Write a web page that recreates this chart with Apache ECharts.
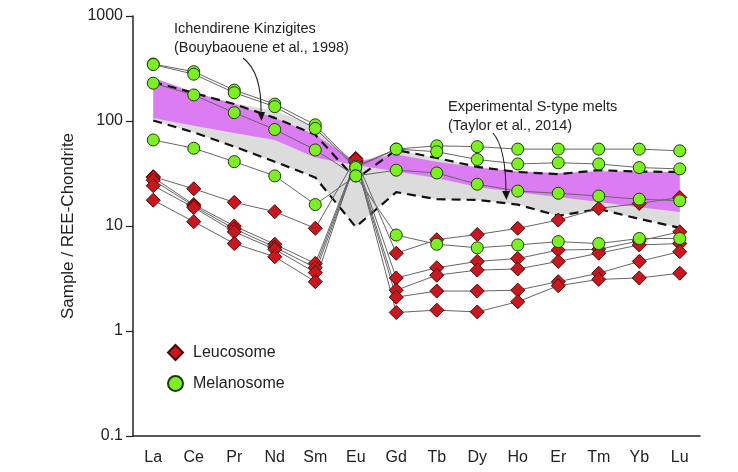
<!DOCTYPE html>
<html>
<head>
<meta charset="utf-8">
<script src="https://cdn.jsdelivr.net/npm/echarts@6/dist/echarts.min.js"></script>
<style>
  html, body { margin: 0; padding: 0; background: #fff; }
  #chart { width: 738px; height: 472px; }
</style>
</head>
<body>
<div id="chart"></div>
<script>
// Rare earth elements, chondrite-normalised
const elements = ['La', 'Ce', 'Pr', 'Nd', 'Sm', 'Eu', 'Gd', 'Tb', 'Dy', 'Ho', 'Er', 'Tm', 'Yb', 'Lu'];
const yTickValues = [0.1, 1, 10, 100, 1000];

// Leucosome samples
const leucosome1 = [29.5, 22.6, 16.8, 13.7, 9.5, 44, 5.5, 7.4, 8.3, 9.5, 11.4, 14.7, 16.4, 18.7];
const leucosome2 = [29, 16, 10.0, 6.7, 4.4, 42, 3.2, 4.0, 4.6, 4.9, 5.9, 6.0, 7.2, 8.8];
const leucosome3 = [27.3, 15.5, 9.4, 6.3, 4.0, 41, 2.45, 3.4, 3.8, 3.9, 4.6, 5.5, 6.6, 6.8];
const leucosome4 = [24.2, 15, 8.8, 6.0, 3.6, 40, 2.1, 2.4, 2.4, 2.45, 2.95, 3.55, 4.6, 5.7];
const leucosome5 = [17.6, 11, 6.8, 5.1, 2.95, 43, 1.5, 1.58, 1.52, 1.9, 2.7, 3.1, 3.2, 3.55];

// Melanosome samples
const melanosome1 = [349, 295, 197, 145, 92, 37, 54, 58, 57, 54, 54, 54, 54, 52];
const melanosome2 = [345, 279, 186, 137, 85, 36, 54, 51, 43, 39, 40, 39, 36, 35];
const melanosome3 = [229, 177, 120, 83, 53, 30, 34, 32, 25, 21.5, 20.5, 19.3, 18, 17.4];
const melanosome4 = [66, 55, 41, 30, 16, 30, 8.2, 6.7, 6.2, 6.6, 7.1, 6.8, 7.6, 7.6];

// Reference field bounds (dashed envelope, grey field, purple field)
const envelopeUpper = [235, 185, 145, 107, 74, 28, 53, 44.5, 36.5, 32.7, 31.2, 34, 33, 32.7];
const envelopeLower = [101, 78, 57, 41, 29, 9.8, 21, 18, 17.7, 16, 12.5, 14.5, 11.7, 9.6];
const greyUpper = [235, 185, 148, 125, 88, 40, 53, 44.5, 36.5, 32.7, 31.2, 34, 33, 32.7];
const purpleUpper = [258, 188, 145, 107, 74, 41, 48, 41, 36, 33, 32, 33, 33, 32.5];
const purpleLower = [107, 90, 77, 66, 45, 38, 33, 28.6, 23.5, 21, 18.9, 16.9, 15.1, 13.6];

const leucosomes = [leucosome1, leucosome2, leucosome3, leucosome4, leucosome5];
const melanosomes = [melanosome1, melanosome2, melanosome3, melanosome4];

const FONT = "'Liberation Sans', Arial, Helvetica, sans-serif";

function fieldSeries(upper, lower, color, z) {
  return {
    type: 'custom',
    silent: true,
    z: z,
    renderItem: function (params, api) {
      if (params.dataIndex > 0) return;
      const pts = [];
      for (let i = 0; i < upper.length; i++) pts.push(api.coord([i, upper[i]]));
      for (let i = lower.length - 1; i >= 0; i--) pts.push(api.coord([i, lower[i]]));
      return { type: 'polygon', shape: { points: pts }, style: { fill: color } };
    },
    data: [[0, upper[0]]]
  };
}

function envelopeSeries(values) {
  return {
    type: 'line',
    data: values,
    symbol: 'none',
    silent: true,
    z: 3,
    lineStyle: { color: '#111', width: 2.2, type: [9, 6] }
  };
}

const series = [
  fieldSeries(greyUpper, envelopeLower, '#dcdcdc', 1),
  fieldSeries(purpleUpper, purpleLower, '#dc7cf2', 2),
  envelopeSeries(envelopeUpper),
  envelopeSeries(envelopeLower)
];

leucosomes.forEach(function (vals) {
  series.push({
    name: 'Leucosome',
    type: 'line',
    data: vals,
    symbol: 'diamond',
    symbolSize: 14,
    z: 4,
    lineStyle: { color: '#666', width: 1 },
    itemStyle: { color: '#c8171e', borderColor: '#4d0606', borderWidth: 1 }
  });
});

melanosomes.forEach(function (vals) {
  series.push({
    name: 'Melanosome',
    type: 'line',
    data: vals,
    symbol: 'circle',
    symbolSize: 12,
    z: 5,
    lineStyle: { color: '#666', width: 1 },
    itemStyle: { color: '#7cf023', borderColor: '#1f3a0a', borderWidth: 1 }
  });
});

const chart = echarts.init(document.getElementById('chart'), null, { renderer: 'canvas' });

chart.setOption({
  animation: false,
  backgroundColor: '#ffffff',
  textStyle: { fontFamily: FONT },
  grid: { left: 133, right: 38, top: 16, bottom: 36 },
  legend: {
    orient: 'vertical',
    left: 162,
    top: 339,
    itemWidth: 15,
    itemHeight: 15,
    itemGap: 14,
    selectedMode: false,
    textStyle: { fontFamily: FONT, fontSize: 16, color: '#222', padding: [0, 0, 0, 5] },
    data: [
      { name: 'Leucosome', icon: 'diamond' },
      { name: 'Melanosome', icon: 'circle' }
    ]
  },
  xAxis: {
    type: 'category',
    data: elements,
    boundaryGap: true,
    axisLine: { lineStyle: { color: '#222', width: 1.5 } },
    axisTick: { alignWithLabel: true, length: 6, lineStyle: { color: '#222', width: 1.2 } },
    axisLabel: { fontFamily: FONT, fontSize: 16, color: '#222', margin: 14 },
    splitLine: { show: false }
  },
  yAxis: {
    type: 'log',
    logBase: 10,
    min: yTickValues[0],
    max: yTickValues[yTickValues.length - 1],
    name: 'Sample / REE-Chondrite',
    nameLocation: 'middle',
    nameRotate: 90,
    nameGap: 54,
    nameTextStyle: { fontFamily: FONT, fontSize: 17, color: '#222' },
    axisLine: { show: true, lineStyle: { color: '#222', width: 1.5 } },
    axisTick: { show: true, length: 7, lineStyle: { color: '#222', width: 1.2 } },
    minorTick: { show: false },
    axisLabel: {
      fontFamily: FONT, fontSize: 16, color: '#222', margin: 10,
      formatter: function (v) { return String(+v.toPrecision(3)); }
    },
    splitLine: { show: false }
  },
  graphic: [
    { type: 'text', left: 174, top: 19, silent: true,
      style: { text: 'Ichendirene Kinzigites\n(Bouybaouene et al., 1998)', font: '14.5px ' + FONT, fill: '#222', lineHeight: 19 } },
    { type: 'text', left: 448, top: 97, silent: true,
      style: { text: 'Experimental S-type melts\n(Taylor et al., 2014)', font: '14.5px ' + FONT, fill: '#222', lineHeight: 19 } },
    { type: 'bezierCurve', silent: true, z: 10,
      shape: { x1: 243, y1: 58, x2: 261, y2: 114, cpx1: 262, cpy1: 72 },
      style: { stroke: '#222', lineWidth: 1.1, fill: null } },
    { type: 'polygon', silent: true, z: 10,
      shape: { points: [[257.5, 112], [265, 112], [261.5, 121]] },
      style: { fill: '#111' } },
    { type: 'bezierCurve', silent: true, z: 10,
      shape: { x1: 493, y1: 133, x2: 506, y2: 193, cpx1: 506, cpy1: 148 },
      style: { stroke: '#222', lineWidth: 1.1, fill: null } },
    { type: 'polygon', silent: true, z: 10,
      shape: { points: [[502, 191], [510, 191], [506.5, 200]] },
      style: { fill: '#111' } }
  ],
  series: series
});
</script>
</body>
</html>
